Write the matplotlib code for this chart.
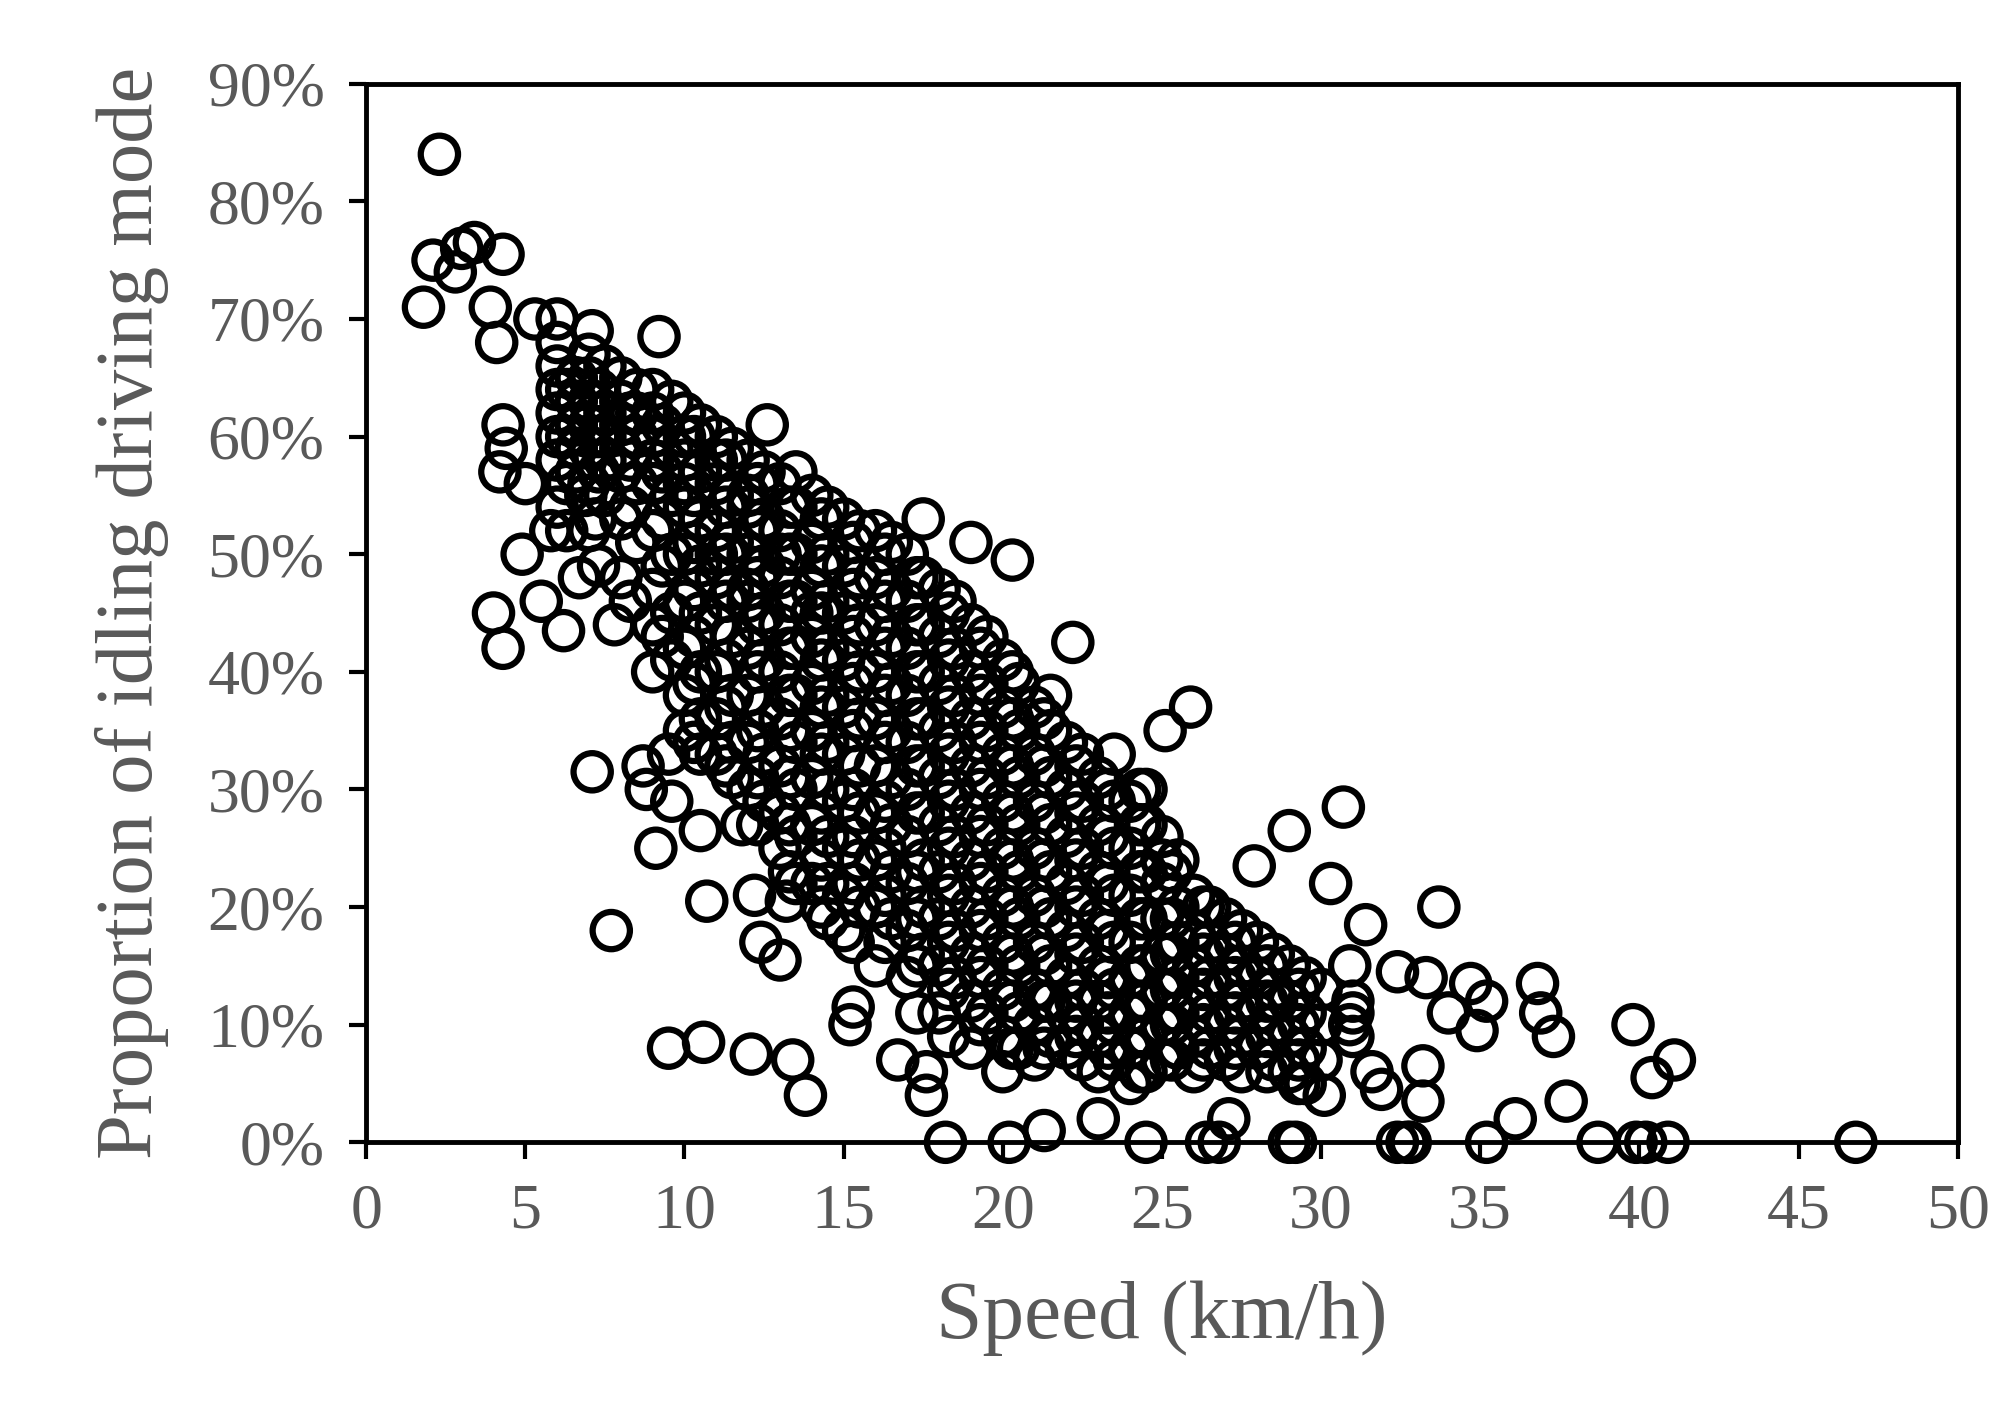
import matplotlib
matplotlib.use("Agg")
import matplotlib.pyplot as plt
from matplotlib.ticker import PercentFormatter

# Scattered (outer) observations: speed km/h, idling proportion %
outer_speed = [2.3,1.8,2.1,2.8,3.0,3.4,4.3,3.9,4.1,4.3,4.4,4.2,4.0,4.3,4.9,5.5,6.2,5.3,6.0,7.1,7.1,7.7,8.8,9.1,9.5,10.6,10.7,12.1,13.4,13.8,
               9.2,12.6,19.0,20.3,22.2,25.9,25.1,30.7,29.0,27.9,30.3,31.4,33.7,36.8,35.2,36.9,37.3,37.7,36.1,39.8,40.4,41.1,38.7,39.9,40.2,40.9,46.8,35.2,32.4,32.8,
               32.7,29.0,29.2,26.4,26.8,24.5,20.2,18.2,21.3,23.0,27.1,33.2,33.2,34.0,34.7,34.9,33.3,32.4,31.9,31.6,30.9,30.9,30.1,29.3,16.7,17.6,17.6,15.2,15.3,17.3,
               12.2,12.4,13.0,13.2,11.8,10.5,9.6,9.5,8.7,9.0,7.8,6.7,6.9,7.2,5.0,5.8,24.3,25.0,28.6,31.0]
outer_prop = [84,71,75,74,76,76.5,75.5,71,68,61,59,57,45,42,50,46,43.5,70,70,69,31.5,18,30,25,8,8.5,20.5,7.5,7,4,
              68.5,61,51,49.5,42.5,37,35,28.5,26.5,23.5,22,18.5,20,13.5,12,11,9,3.5,2,10,5.5,7,0,0,0,0,0,0,0,0,
              0,0,0,0,0,0,0,0,1,2,2,3.5,6.5,11,13.5,9.5,14,14.5,4.5,6,10,15,4,5,7,4,6,10,11.5,11,
              21,17,15.5,20.5,27,26.5,29,33,32,40,44,48,55,53,56,52,30,24,12,11]

# Dense band, typed column by column (speed -> list of proportions)
band_cols = {
    6.0: [66,62,58,54,60,64,68], 6.6: [65,61,57,63,59],
    7.0: [67,63,59,56,61,65,52], 7.5: [66,62,58,55,60],
    8.0: [65,61,57,53,48,63,59], 8.5: [64,60,56,51,62],
    9.0: [64,60,56,52,47,44,58,62], 9.6: [63,59,55,50,45,41],
    10.0: [62,58,54,50,46,42,38,35,60,56], 10.5: [61,57,53,49,45,40,36,33],
    11.0: [60,56,52,48,44,40,36,33,58,50], 11.5: [59,55,51,47,43,38,34,31],
    12.0: [58,54,50,46,42,38,34,30,55,47], 12.5: [57,53,49,45,41,37,33,29],
    13.0: [56,52,48,44,40,36,32,28,25,50], 13.5: [57,54,50,46,42,38,34,30,26,22],
    14.0: [55,51,47,43,39,35,31,27,22,45], 14.5: [54,50,46,42,38,34,30,26,22,19],
    15.0: [53,49,45,41,37,33,29,25,21,18], 15.5: [52,48,44,40,36,32,28,24,20],
    16.0: [52,48,44,40,36,32,28,24,20,15], 16.5: [51,47,43,39,35,31,27,23,19],
    17.0: [50,46,42,38,34,30,26,22,18,14], 17.5: [53,48,44,40,36,32,28,24,20,16],
    18.0: [47,43,39,35,31,27,23,19,15,11], 18.5: [46,42,38,34,30,26,22,18,14],
    19.0: [44,40,36,32,28,24,20,16,12,8], 19.5: [43,39,35,31,27,23,19,15,11],
    20.0: [41,37,33,29,25,21,17,13,9,6], 20.5: [39,35,31,27,23,19,15,11,8],
    21.0: [37,33,29,25,21,17,13,10,7], 21.5: [38,35,31,27,23,19,15,12,9],
    22.0: [34,30,26,22,18,14,11,8], 22.5: [33,29,25,21,17,13,10,7],
    23.0: [31,27,23,19,15,12,9,6], 23.5: [33,29,25,21,17,13,10,7],
    24.0: [29,25,21,17,14,11,8,5], 24.5: [30,27,23,19,15,12,9,6],
    25.0: [26,22,19,16,13,10,7], 25.5: [24,20,17,14,11,8],
    26.0: [21,18,15,12,9,6], 26.5: [20,17,14,11,8],
    27.0: [19,16,13,10,7], 27.5: [18,15,12,9,6],
    28.0: [17,14,11,8], 28.5: [16,13,10,7],
    29.0: [15,12,9,6], 29.5: [14,11,8,5],
    30.0: [13,10,7], 31.0: [12,9],
}
# Extra in-between observations filling the dense band
fill_cols = {
    6.3: [64,60,56,52], 7.3: [64,60,57,49], 8.3: [62,58,54,46],
    9.3: [61,57,53,49,43], 10.3: [60,55,51,47,43,39,34], 11.3: [58,54,50,46,41,37,32],
    12.3: [56,52,48,44,40,35,31,27], 13.3: [54,50,46,42,38,35,31,27,23],
    14.3: [53,49,45,41,37,33,28,24,20], 15.3: [51,47,43,39,35,30,26,22,17],
    16.3: [50,46,42,38,34,29,25,21,17], 17.3: [48,44,40,36,32,28,23,19,15],
    18.3: [45,41,37,33,29,25,21,17,13,9], 19.3: [42,38,34,30,26,22,18,14,10],
    20.3: [40,36,32,28,24,20,16,12,8], 21.3: [36,32,28,24,20,16,12,8],
    22.3: [32,28,24,20,16,12,9], 23.3: [30,26,22,18,14,11,8],
    24.3: [27,23,19,15,12,9,6], 25.3: [23,19,16,13,10,7],
    26.3: [20,16,13,10,7], 27.3: [17,14,11,8], 28.3: [15,12,9,6], 29.3: [13,10,7],
}

band_speed = [x for cols in (band_cols, fill_cols) for x, ys in cols.items() for _ in ys]
band_prop = [y for cols in (band_cols, fill_cols) for ys in cols.values() for y in ys]

speed = outer_speed + band_speed
prop = outer_prop + band_prop

x_ticks = [0,5,10,15,20,25,30,35,40,45,50]
y_ticks = [0,10,20,30,40,50,60,70,80,90]

plt.rcParams['font.family'] = ['Liberation Serif', 'DejaVu Serif']
fig = plt.figure(figsize=(20.12, 14.19), dpi=100)
ax = fig.add_axes([0.182, 0.195, 0.791, 0.746])
ax.scatter(speed, prop, s=720, facecolors='none', edgecolors='black', linewidths=4.5, clip_on=False)
ax.set_xlim(0, 50)
ax.set_ylim(0, 90)
ax.set_xticks(x_ticks)
ax.set_yticks(y_ticks)
ax.yaxis.set_major_formatter(PercentFormatter(decimals=0))
ax.tick_params(labelsize=46, labelcolor='#595959', color='black', length=12, width=3, direction='out', pad=18)
for s in ax.spines.values():
    s.set_linewidth(3.5)
ax.set_xlabel('Speed (km/h)', fontsize=60, color='#595959', labelpad=28)
ax.set_ylabel('Proportion of idling driving mode', fontsize=58, color='#595959', labelpad=28)
fig.savefig('out.png', dpi=100)
